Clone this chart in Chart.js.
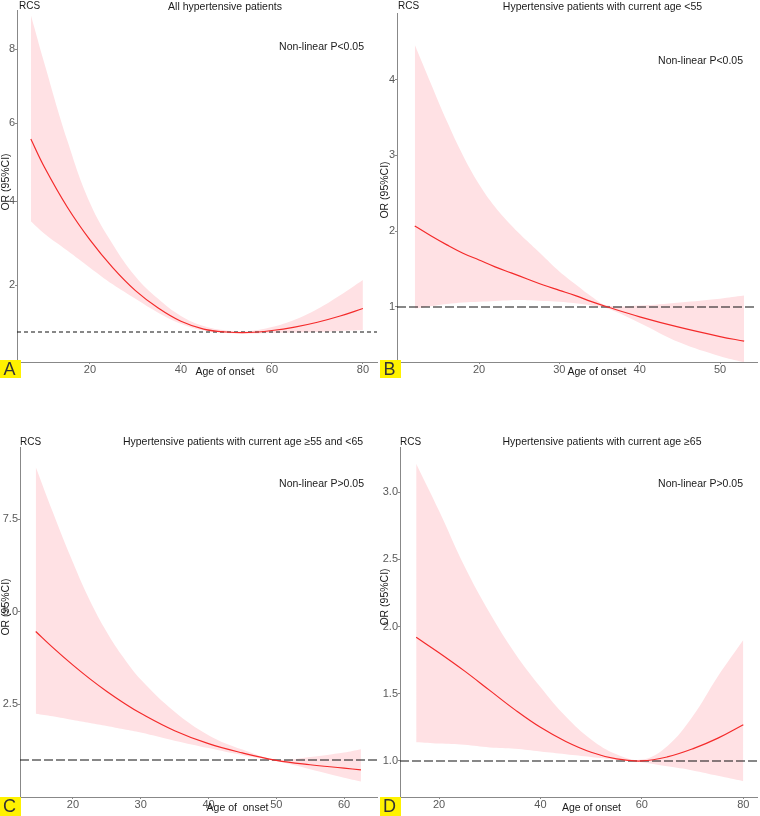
<!DOCTYPE html>
<html>
<head>
<meta charset="utf-8">
<script src="https://cdn.jsdelivr.net/npm/chart.js@4.4.1/dist/chart.umd.min.js"></script>
<style>
  html, body { margin: 0; padding: 0; background: #fff; }
  #wrap { position: relative; width: 760px; height: 816px; }
  canvas { position: absolute; }
</style>
</head>
<body>
<div id="wrap">
  <canvas id="cA" width="380" height="400" style="left:0;top:0"></canvas>
  <canvas id="cB" width="380" height="400" style="left:380px;top:0"></canvas>
  <canvas id="cC" width="380" height="416" style="left:0;top:400px"></canvas>
  <canvas id="cD" width="380" height="416" style="left:380px;top:400px"></canvas>
</div>
<script>
// A: all hypertensive patients
const agesA = [7, 10, 15, 20, 25, 30, 35, 40, 45, 50, 55, 60, 65, 70, 75, 80];
const orA   = [5.58, 4.85, 3.85, 3.05, 2.4, 1.88, 1.5, 1.22, 1.06, 1.0, 0.99, 1.03, 1.1, 1.2, 1.33, 1.49];
const lowA  = [3.5, 3.2, 2.8, 2.4, 2.02, 1.7, 1.4, 1.17, 1.03, 0.98, 0.97, 0.98, 0.99, 1.0, 1.02, 1.04];
const upA   = [8.95, 7.6, 5.55, 3.95, 2.95, 2.2, 1.7, 1.33, 1.12, 1.03, 1.02, 1.1, 1.25, 1.48, 1.78, 2.12];

// B: current age <55
const agesB = [12, 14, 16, 18, 20, 22, 24, 26, 28, 30, 32, 34, 36, 40, 45, 50, 53];
const orB   = [2.07, 1.94, 1.82, 1.71, 1.62, 1.53, 1.45, 1.37, 1.29, 1.22, 1.15, 1.07, 1.0, 0.87, 0.73, 0.61, 0.55];
const lowB  = [0.98, 1.01, 1.04, 1.06, 1.07, 1.08, 1.09, 1.09, 1.08, 1.07, 1.05, 1.02, 0.98, 0.79, 0.53, 0.35, 0.27];
const upB   = [4.46, 3.95, 3.45, 3.0, 2.62, 2.32, 2.08, 1.87, 1.67, 1.47, 1.3, 1.14, 1.02, 1.02, 1.06, 1.11, 1.15];

// C: current age >=55 and <65
const agesC = [14.5, 17, 20, 22.5, 25, 27.5, 30, 35, 40, 45, 50, 55, 60, 62.5];
const orC   = [4.47, 4.04, 3.56, 3.19, 2.85, 2.54, 2.26, 1.79, 1.44, 1.19, 0.99, 0.87, 0.78, 0.73];
const lowC  = [2.25, 2.18, 2.08, 2.0, 1.92, 1.83, 1.74, 1.52, 1.32, 1.13, 0.97, 0.75, 0.52, 0.42];
const upC   = [8.91, 7.7, 6.33, 5.3, 4.45, 3.75, 3.17, 2.3, 1.67, 1.28, 1.01, 1.08, 1.2, 1.29];

// D: current age >=65
const agesD = [15.5, 20, 25, 30, 35, 40, 45, 50, 55, 60, 65, 70, 75, 80];
const orD   = [1.92, 1.805, 1.67, 1.525, 1.38, 1.25, 1.145, 1.065, 1.015, 1.0, 1.03, 1.09, 1.17, 1.27];
const lowD  = [1.14, 1.13, 1.12, 1.1, 1.09, 1.07, 1.05, 1.03, 1.01, 0.99, 0.96, 0.93, 0.89, 0.85];
const upD   = [3.21, 2.86, 2.45, 2.1, 1.8, 1.55, 1.33, 1.16, 1.05, 1.01, 1.11, 1.33, 1.63, 1.9];

const xTicksA = [20, 40, 60, 80];
const xTicksB = [20, 30, 40, 50];
const xTicksC = [20, 30, 40, 50, 60];
const xTicksD = [20, 40, 60, 80];
const yTicksA = [2, 4, 6, 8];
const yTicksB = [1, 2, 3, 4];
const yTicksC = [2.5, 5.0, 7.5];
const yTicksD = [1.0, 1.5, 2.0, 2.5, 3.0];
const yLabelsA = ['2', '4', '6', '8'];
const yLabelsB = ['1', '2', '3', '4'];
const yLabelsC = ['2.5', '5.0', '7.5'];
const yLabelsD = ['1.0', '1.5', '2.0', '2.5', '3.0'];

const FONT = '"Liberation Sans", Arial, Helvetica, sans-serif';
Chart.defaults.font.family = FONT;

// panel A's y axis is slightly compressed towards the top (power ~0.85)
const POW = 0.85;
class PowerScale extends Chart.LinearScale {
  getPixelForValue(value) {
    const a = Math.pow(this.min, POW), b = Math.pow(this.max, POW);
    return this.getPixelForDecimal((Math.pow(value, POW) - a) / (b - a));
  }
  getValueForPixel(pixel) {
    const a = Math.pow(this.min, POW), b = Math.pow(this.max, POW);
    return Math.pow(a + this.getDecimalForPixel(pixel) * (b - a), 1 / POW);
  }
}
PowerScale.id = 'power';
PowerScale.defaults = Chart.LinearScale.defaults;
Chart.register(PowerScale);

const pts = (xs, ys) => xs.map((x, i) => ({x: x, y: ys[i]}));

function textPlugin(cfg) {
  return {
    id: 'panelText',
    afterDraw(chart) {
      const ctx = chart.ctx;
      cfg.items.forEach(t => {
        ctx.save();
        ctx.font = (t.size || 10.5) + 'px ' + FONT;
        ctx.fillStyle = '#1a1a1a';
        ctx.textAlign = t.align || 'center';
        ctx.textBaseline = 'middle';
        ctx.translate(t.x, t.y);
        if (t.rot) ctx.rotate(-Math.PI / 2);
        ctx.fillText(t.text, 0, 0);
        ctx.restore();
      });
      const b = cfg.box;
      ctx.save();
      ctx.fillStyle = '#fff200';
      ctx.fillRect(b[0], b[1], b[2], b[3]);
      ctx.fillStyle = '#333';
      ctx.font = '18px ' + FONT;
      ctx.textAlign = 'center';
      ctx.textBaseline = 'middle';
      ctx.fillText(cfg.letter, b[0] + b[2] / 2 - 1, b[1] + b[3] / 2 + 1);
      ctx.restore();
    }
  };
}

function makePanel(id, p) {
  new Chart(document.getElementById(id), {
    type: 'line',
    data: {
      datasets: [
        {data: pts(p.ages, p.up), fill: '+1', backgroundColor: '#ffe1e4', borderColor: 'rgba(0,0,0,0)',
         borderWidth: 0, pointRadius: 0, tension: 0.4, order: 2},
        {data: pts(p.ages, p.low), fill: false, borderColor: 'rgba(0,0,0,0)',
         borderWidth: 0, pointRadius: 0, tension: 0.4, order: 3},
        {data: [{x: p.xMin, y: 1}, {x: p.xMax, y: 1}], fill: false, borderColor: '#111',
         borderWidth: 1.1, borderDash: p.dash, pointRadius: 0, order: 1},
        {data: pts(p.ages, p.or), fill: false, borderColor: '#f42a2a',
         borderWidth: 1.2, pointRadius: 0, tension: 0.4, order: 0}
      ]
    },
    options: {
      responsive: false,
      animation: false,
      layout: {padding: {top: p.top, right: 3, left: 0, bottom: 0}},
      plugins: {legend: {display: false}, tooltip: {enabled: false}},
      scales: {
        x: {
          type: 'linear', min: p.xMin, max: p.xMax,
          afterBuildTicks: s => { s.ticks = p.xTicks.map(v => ({value: v})); },
          afterFit: s => { s.height = p.xH; },
          ticks: {color: '#595959', font: {size: 11}, padding: -1, maxRotation: 0, autoSkip: false},
          grid: {display: true, drawOnChartArea: false, drawTicks: true, tickLength: 2, color: '#888'},
          border: {display: true, color: '#888', width: 1}
        },
        y: {
          type: p.yType, min: p.yMin, max: p.yMax,
          afterBuildTicks: s => { s.ticks = p.yTicks.map(v => ({value: v})); },
          afterFit: s => { s.width = p.yW; },
          ticks: {color: '#595959', font: {size: 11}, padding: 0,
                  callback: (v, i) => p.yLabels[i]},
          grid: {display: true, drawOnChartArea: false, drawTicks: true, tickLength: 2, color: '#888'},
          border: {display: true, color: '#888', width: 1}
        }
      }
    },
    plugins: [textPlugin(p.text)]
  });
}

makePanel('cA', {
  ages: agesA, or: orA, low: lowA, up: upA,
  xMin: 3.96, xMax: 83.1, xTicks: xTicksA, yType: 'power', yMin: 0.427, yMax: 9.09,
  yTicks: yTicksA, yLabels: yLabelsA, dash: [4, 3], top: 10, xH: 38, yW: 17,
  text: {letter: 'A', box: [0, 360, 21, 18], items: [
    {text: 'RCS', x: 19, y: 6, align: 'left', size: 10},
    {text: 'All hypertensive patients', x: 225, y: 7},
    {text: 'Non-linear P<0.05', x: 364, y: 47, align: 'right'},
    {text: 'OR (95%CI)', x: 6, y: 182, rot: true},
    {text: 'Age of onset', x: 225, y: 372}
  ]}
});

makePanel('cB', {
  ages: agesB, or: orB, low: lowB, up: upB,
  xMin: 9.79, xMax: 54.6, xTicks: xTicksB, yType: 'linear', yMin: 0.274, yMax: 4.88,
  yTicks: yTicksB, yLabels: yLabelsB, dash: [9, 3], top: 13, xH: 38, yW: 17,
  text: {letter: 'B', box: [0, 360, 21, 18], items: [
    {text: 'RCS', x: 18, y: 6, align: 'left', size: 10},
    {text: 'Hypertensive patients with current age <55', x: 222.5, y: 7},
    {text: 'Non-linear P<0.05', x: 363, y: 61, align: 'right'},
    {text: 'OR (95%CI)', x: 5, y: 190, rot: true},
    {text: 'Age of onset', x: 217, y: 372}
  ]}
});

makePanel('cC', {
  ages: agesC, or: orC, low: lowC, up: upC,
  xMin: 12.18, xMax: 64.87, xTicks: xTicksC, yType: 'linear', yMin: 0, yMax: 9.45,
  yTicks: yTicksC, yLabels: yLabelsC, dash: [9, 3], top: 47, xH: 19, yW: 20,
  text: {letter: 'C', box: [0, 397, 21, 19], items: [
    {text: 'RCS', x: 20, y: 42, align: 'left', size: 10},
    {text: 'Hypertensive patients with current age \u226555 and <65', x: 243, y: 42},
    {text: 'Non-linear P>0.05', x: 364, y: 84, align: 'right'},
    {text: 'OR (95%CI)', x: 6, y: 207, rot: true},
    {text: 'Age of  onset', x: 237.5, y: 408}
  ]}
});

makePanel('cD', {
  ages: agesD, or: orD, low: lowD, up: upD,
  xMin: 12.31, xMax: 82.7, xTicks: xTicksD, yType: 'linear', yMin: 0.732, yMax: 3.335,
  yTicks: yTicksD, yLabels: yLabelsD, dash: [9, 3], top: 47, xH: 19, yW: 20,
  text: {letter: 'D', box: [0, 397, 21, 19], items: [
    {text: 'RCS', x: 20, y: 42, align: 'left', size: 10},
    {text: 'Hypertensive patients with current age \u226565', x: 222, y: 42},
    {text: 'Non-linear P>0.05', x: 363, y: 84, align: 'right'},
    {text: 'OR (95%CI)', x: 5, y: 197, rot: true},
    {text: 'Age of onset', x: 211.5, y: 408}
  ]}
});
</script>
</body>
</html>
